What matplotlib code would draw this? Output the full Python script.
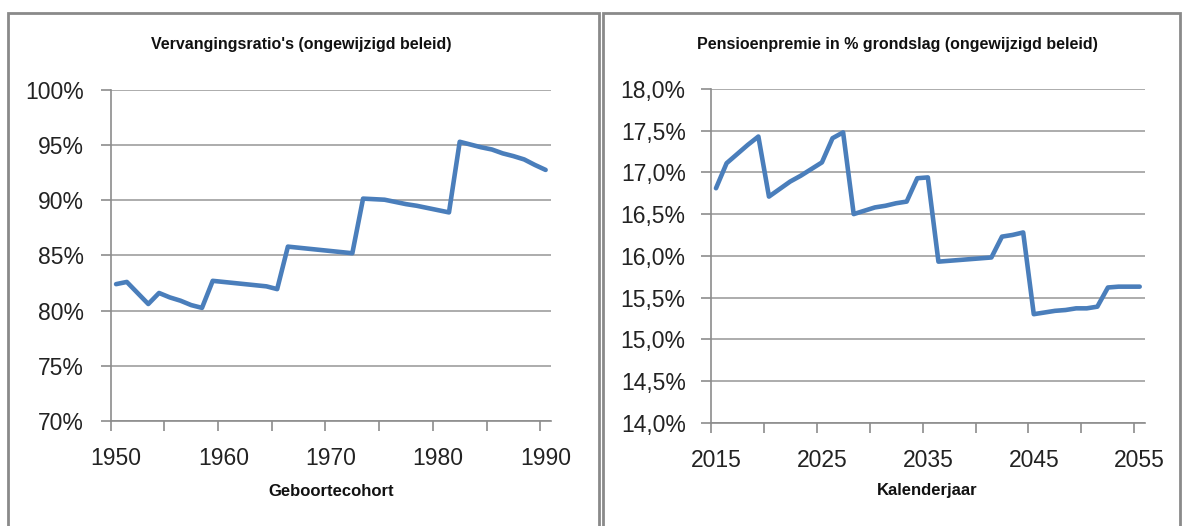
import matplotlib
matplotlib.use("Agg")
import matplotlib.pyplot as plt
from matplotlib.patches import Rectangle
from matplotlib.ticker import FixedLocator, FuncFormatter

# ---- data ----
cohort_years = list(range(1950, 1991))
replacement_ratio = [
    82.4, 82.6, 81.6, 80.6, 81.6, 81.2, 80.9, 80.5, 80.25, 82.7,
    82.6, 82.5, 82.4, 82.3, 82.2, 81.95, 85.8, 85.7, 85.6, 85.5,
    85.4, 85.3, 85.2, 90.15, 90.1, 90.05, 89.85, 89.65, 89.5, 89.3,
    89.1, 88.9, 95.3, 95.05, 94.8, 94.6, 94.25, 94.0, 93.7, 93.2,
    92.75,
]
calendar_years = list(range(2015, 2056))
premium_pct = [
    16.81, 17.11, 17.22, 17.33, 17.43, 16.71, 16.80, 16.89, 16.96, 17.04,
    17.12, 17.41, 17.48, 16.50, 16.54, 16.58, 16.60, 16.63, 16.65, 16.93,
    16.94, 15.93, 15.94, 15.95, 15.96, 15.97, 15.98, 16.23, 16.25, 16.28,
    15.30, 15.32, 15.34, 15.35, 15.37, 15.37, 15.39, 15.62, 15.63, 15.63,
    15.63,
]
left_title = "Vervangingsratio's (ongewijzigd beleid)"
right_title = "Pensioenpremie in % grondslag (ongewijzigd beleid)"
left_xlabel = "Geboortecohort"
right_xlabel = "Kalenderjaar"
left_yticks = [70, 75, 80, 85, 90, 95, 100]
right_yticks = [14.0, 14.5, 15.0, 15.5, 16.0, 16.5, 17.0, 17.5, 18.0]
left_xticklabels = [1950, 1960, 1970, 1980, 1990]
right_xticklabels = [2015, 2025, 2035, 2045, 2055]

LINE = "#4a7ebb"
GRID = "#a6a6a6"
AXC = "#8c8c8c"
FONT = "Liberation Sans"

W, H = 1182, 526
fig = plt.figure(figsize=(W / 100, H / 100), dpi=100)
fig.patch.set_facecolor("white")

def fx(px):
    return px / W

def fy(py):
    return 1 - py / H

# panel borders
for (x0, y0, x1, y1) in [(8, 13, 599, 540), (603, 13, 1180, 540)]:
    fig.patches.append(Rectangle((fx(x0), fy(y1)), fx(x1 - x0), (y1 - y0) / H,
                                 transform=fig.transFigure, fill=False,
                                 edgecolor="#8a8a8a", linewidth=2.0, zorder=0))

def setup(ax, x, y, xlim, ylim, yticks, yfmt, xlabels, title, xlabel, tx, lx, ypad):
    ax.plot(x, y, color=LINE, linewidth=3.3, solid_capstyle="round",
            solid_joinstyle="round", zorder=3)
    ax.set_xlim(*xlim)
    ax.set_ylim(*ylim)
    for s in ["top", "right"]:
        ax.spines[s].set_visible(False)
    for s in ["left", "bottom"]:
        ax.spines[s].set_color(AXC)
        ax.spines[s].set_linewidth(1.2)
    ax.set_yticks(yticks)
    ax.yaxis.set_major_formatter(FuncFormatter(yfmt))
    ax.yaxis.grid(True, color=GRID, linewidth=1.3)
    ax.set_axisbelow(True)
    ax.tick_params(axis="y", direction="out", length=7, width=1.2, color=AXC,
                   labelsize=16.5, labelcolor="#222222", pad=ypad)
    # labels at category centres, tick marks between categories
    ax.set_xticks(xlabels)
    ax.set_xticklabels([str(v) for v in xlabels])
    ax.tick_params(axis="x", which="major", length=0, labelsize=16.5,
                   labelcolor="#222222", pad=19)
    minors = [xlim[0] + 5 * k for k in range(9)]
    ax.xaxis.set_minor_locator(FixedLocator(minors))
    ax.tick_params(axis="x", which="minor", direction="out", length=7,
                   width=1.2, color=AXC)
    for lab in ax.get_xticklabels() + ax.get_yticklabels():
        lab.set_fontfamily(FONT)
    fig.text(fx(tx), fy(45), title, ha="center", va="center",
             fontsize=11.5, fontweight="bold", family=FONT, color="#111111")
    fig.text(fx(lx), fy(491), xlabel, ha="center", va="center",
             fontsize=12, fontweight="bold", family=FONT, color="#111111")

# left axes: x 110.7..551 px, y 89.9..421 px
axL = fig.add_axes([fx(110.7), fy(421), fx(551 - 110.7), (421 - 89.9) / H])
setup(axL, cohort_years, replacement_ratio, (1949.5, 1990.5), (70, 100),
      left_yticks, lambda v, p: f"{v:.0f}%", left_xticklabels,
      left_title, left_xlabel, 301, 331, 12.5)

# right axes: x 710.7..1145 px, y 89..422.6 px
axR = fig.add_axes([fx(710.7), fy(422.6), fx(1145 - 710.7), (422.6 - 89) / H])
setup(axR, calendar_years, premium_pct, (2014.5, 2055.5), (14, 18),
      right_yticks, lambda v, p: f"{v:.1f}%".replace(".", ","), right_xticklabels,
      right_title, right_xlabel, 897, 927, 11)

fig.savefig("out.png", dpi=100)
